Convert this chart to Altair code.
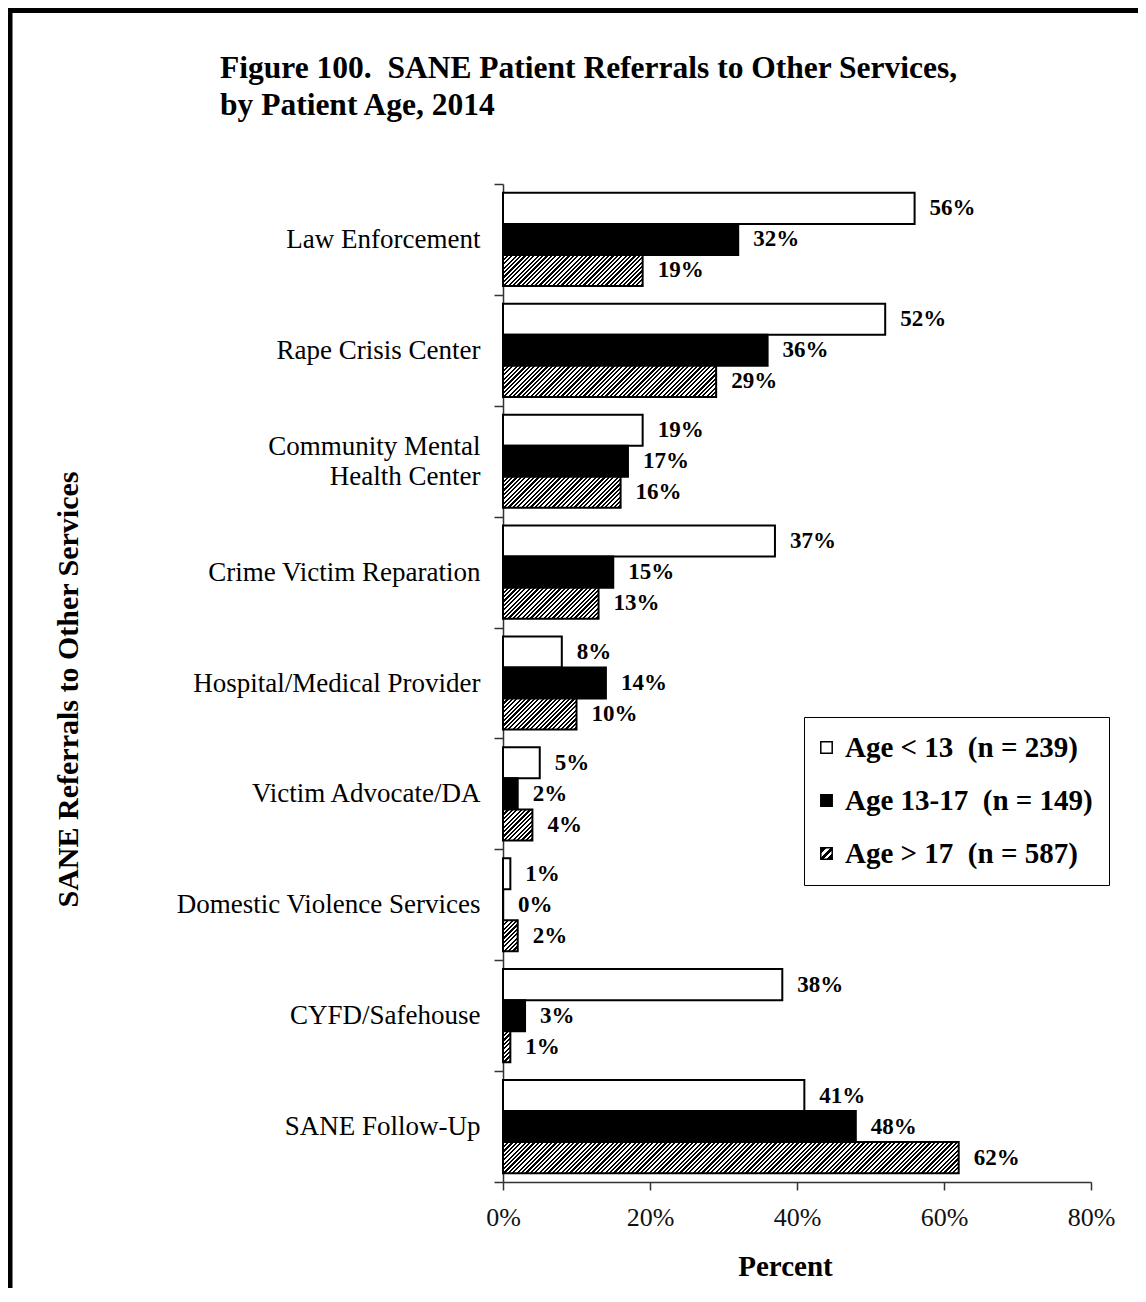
import altair as alt
import pandas as pd

# ---------------- data ----------------
categories = [
    "Law Enforcement",
    "Rape Crisis Center",
    "Community Mental Health Center",
    "Crime Victim Reparation",
    "Hospital/Medical Provider",
    "Victim Advocate/DA",
    "Domestic Violence Services",
    "CYFD/Safehouse",
    "SANE Follow-Up",
]
groups = [
    "Age < 13\u00a0 (n = 239)",
    "Age 13-17\u00a0 (n = 149)",
    "Age > 17\u00a0 (n = 587)",
]
age_lt13 = [56, 52, 19, 37, 8, 5, 1, 38, 41]
age_13_17 = [32, 36, 17, 15, 14, 2, 0, 3, 48]
age_gt17 = [19, 29, 16, 13, 10, 4, 2, 1, 62]
x_ticks = [0, 20, 40, 60, 80]

title_lines = [
    "Figure 100.\u00a0 SANE Patient Referrals to Other Services,",
    "by Patient Age, 2014",
]
y_title = "SANE Referrals to Other Services"
x_title = "Percent"

# ---------------- layout / style ----------------
FONT = "Liberation Serif"
W, H = 588, 998
PAD = {"left": 495, "top": 176, "right": 47, "bottom": 106}
OFF_PAD = 0.2857          # outer padding of the bar group inside each category band
X_MAX = 80

rows = []
for series, vals in zip(groups, [age_lt13, age_13_17, age_gt17]):
    for c, v in zip(categories, vals):
        rows.append({"category": c, "group": series, "value": v, "label": f"{v}%"})
df = pd.DataFrame(rows)

step = H / len(categories)
bar_h = step / (len(groups) + 2 * OFF_PAD)


def hatch(w, h, period=4.4, frac=0.5):
    k = w * (w + h) / (w * w + h * h)
    d = period / (w + h)
    stops = []
    o = 0.0
    while o < 1:
        a = min(o + d * frac, 1.0)
        b = min(o + d, 1.0)
        stops += [
            {"offset": round(o, 5), "color": "black"},
            {"offset": round(a, 5), "color": "black"},
            {"offset": round(a, 5), "color": "white"},
            {"offset": round(b, 5), "color": "white"},
        ]
        o += d
    return {"gradient": "linear", "x1": 0, "y1": 0, "x2": k, "y2": k * h / w, "stops": stops}


leg_stops = [(0, "black"), (0.28, "black"), (0.28, "white"), (0.42, "white"),
             (0.42, "black"), (0.62, "black"), (0.62, "white"), (0.76, "white"),
             (0.76, "black"), (1, "black")]
legend_expr = ("{gradient: 'linear', x1: 0, y1: 0, x2: 1, y2: 1, stops: ["
               + ", ".join(f"{{offset: {o}, color: '{c}'}}" for o, c in leg_stops) + "]}")

two_line = "Community Mental Health Center"
label_expr = ("datum.label == '" + two_line + "' ? "
              "['Community Mental', 'Health Center" + "\u00a0" * 5 + "'] : datum.label")

y_enc = alt.Y(
    "category:N",
    sort=categories,
    scale=alt.Scale(domain=categories, paddingInner=0, paddingOuter=0),
    axis=alt.Axis(
        title=y_title,
        titleFont=FONT, titleFontSize=30, titleFontWeight="bold", titleColor="black",
        titleAngle=270, titleX=-435, titleY=505, titleAlign="center", titleBaseline="middle",
        labelFont=FONT, labelFontSize=27, labelColor="black", labelPadding=14,
        labelLimit=470, labelExpr=label_expr, labelLineHeight=30,
        labelOffset={"condition": {"test": f"datum.label == '{two_line}'", "value": -15},
                     "value": 0},
        tickBand="extent", tickSize=9, tickColor="#333", tickWidth=1.5,
        domainColor="#333", domainWidth=1.5, grid=False,
    ),
)
yoff_enc = alt.YOffset("group:N", sort=groups,
                       scale=alt.Scale(domain=groups, paddingInner=0, paddingOuter=OFF_PAD))
x_enc = alt.X(
    "value:Q",
    scale=alt.Scale(domain=[0, X_MAX]),
    axis=alt.Axis(
        values=x_ticks, labelExpr="datum.value + '%'", labelFlush=False,
        labelFont=FONT, labelFontSize=26, labelColor="#111", labelPadding=14,
        tickSize=8, tickColor="#333", tickWidth=1.5, domainColor="#333", domainWidth=1.5,
        grid=False,
        title=x_title, titleFont=FONT, titleFontSize=29, titleFontWeight="bold",
        titleColor="black", titleX=282, titleY=93, titleAlign="center",
        titleBaseline="alphabetic",
    ),
)

base = alt.Chart(df[df["group"] != groups[2]]).mark_bar(stroke="black", strokeWidth=2).encode(
    x=x_enc,
    y=y_enc,
    yOffset=yoff_enc,
    color=alt.Color(
        "group:N",
        scale=alt.Scale(domain=groups, range=["white", "black", {"expr": legend_expr}]),
        legend=alt.Legend(
            title=None, orient="none", legendX=301, legendY=533,
            direction="vertical",
            strokeColor="black", fillColor="white", padding=16,
            labelFont=FONT, labelFontSize=29, labelFontWeight="bold", labelColor="black",
            labelLimit=400, labelOffset=4, symbolOffset=-8,
            symbolType="square", symbolSize=130, symbolStrokeColor="black",
            symbolStrokeWidth=1.5, rowPadding=23,
        ),
    ),
)

hatched_layers = []
for c, v in zip(categories, age_gt17):
    if v <= 0:
        continue
    w = v / X_MAX * W
    sub = df[(df["group"] == groups[2]) & (df["category"] == c)]
    hatched_layers.append(
        alt.Chart(sub).mark_bar(fill=hatch(w, bar_h), stroke="black", strokeWidth=2).encode(
            x="value:Q", y="category:N", yOffset="group:N"
        )
    )

labels = alt.Chart(df).mark_text(
    align="left", baseline="middle", dx=15, font=FONT, fontSize=23,
    fontWeight="bold", color="black",
).encode(x="value:Q", y="category:N", yOffset="group:N", text="label:N")

one = pd.DataFrame({"k": [0]})
frame_left = alt.Chart(one).mark_rule(color="black", strokeWidth=5).encode(
    x=alt.value(-493), y=alt.value(-176), y2=alt.value(H + PAD["bottom"])
)
frame_top = alt.Chart(one).mark_rule(color="black", strokeWidth=5).encode(
    y=alt.value(-173.6), x=alt.value(-PAD["left"]), x2=alt.value(W + PAD["right"])
)
title = alt.Chart(one).mark_text(
    align="left", baseline="alphabetic", font=FONT, fontSize=31.5, fontWeight="bold",
    lineHeight=37, color="black",
).encode(x=alt.value(-283), y=alt.value(-106), text=alt.value(title_lines))

chart = alt.layer(
    base, *hatched_layers, labels, frame_left, frame_top, title
).properties(
    width=W, height=H,
    autosize=alt.AutoSizeParams(type="none"),
    padding=PAD,
).configure_view(stroke="transparent")

chart.save("out.html", embed_options={"renderer": "svg", "actions": False})
